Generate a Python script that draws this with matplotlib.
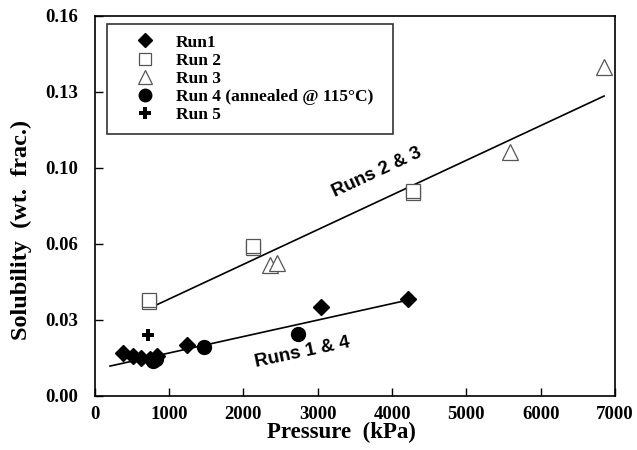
import matplotlib
matplotlib.use("Agg")
import matplotlib.pyplot as plt
import numpy as np
from matplotlib.ticker import FixedLocator, FormatStrFormatter

# Data
run1_x = [380, 514, 622, 743, 837, 1241, 3045, 4216]
run1_y = [0.0181, 0.0168, 0.0160, 0.0156, 0.0168, 0.0215, 0.0375, 0.0408]
run2_x = [730, 730, 2130, 2130, 4284, 4284]
run2_y = [0.0396, 0.0404, 0.0623, 0.0632, 0.0855, 0.0863]
run3_x = [2358, 2452, 5588, 6853]
run3_y = [0.0552, 0.0560, 0.1027, 0.1385]
run4_x = [780, 830, 1470, 2738]
run4_y = [0.0148, 0.0156, 0.0206, 0.0261]
run5_x = [717]
run5_y = [0.0257]

fit23_x = [744, 6853]
fit23_y = [0.0371, 0.1263]
fit14_x = [205, 4216]
fit14_y = [0.0126, 0.0404]

x_ticks = [0, 1000, 2000, 3000, 4000, 5000, 6000, 7000]
y_ticks = [0.0, 0.032, 0.064, 0.096, 0.128, 0.16]

serif = "Liberation Serif"
sans = "Liberation Sans"

fig = plt.figure(figsize=(6.37, 4.5), dpi=100)
ax = fig.add_axes([94.8 / 637, 1 - 396 / 450, (615 - 94.8) / 637, (396 - 16) / 450])

ax.plot(fit23_x, fit23_y, color="black", lw=1.2, zorder=2)
ax.plot(fit14_x, fit14_y, color="black", lw=1.2, zorder=2)

ax.plot(run1_x, run1_y, ls="none", marker="D", ms=8, color="black", label="Run1", zorder=3)
ax.plot(run2_x, run2_y, ls="none", marker="s", ms=10, mfc="white", mec="#555555", mew=0.9, label="Run 2", zorder=3)
ax.plot(run3_x, run3_y, ls="none", marker="^", ms=11, mfc="white", mec="#555555", mew=0.9, label="Run 3", zorder=3)
ax.plot(run4_x, run4_y, ls="none", marker="o", ms=10, color="black", label="Run 4 (annealed @ 115°C)", zorder=3)
ax.plot(run5_x, run5_y, ls="none", marker="P", ms=9, color="black", mew=0, label="Run 5", zorder=3)

ax.set_xlim(0, 7000)
ax.set_ylim(0, 0.16)
ax.xaxis.set_major_locator(FixedLocator(x_ticks))
ax.yaxis.set_major_locator(FixedLocator(y_ticks))
ax.yaxis.set_major_formatter(FormatStrFormatter("%.2f"))
ax.tick_params(direction="in", length=6, width=1, labelsize=13.5)
ax.tick_params(axis="x", pad=7)
ax.tick_params(axis="y", pad=12)
for lab in ax.get_xticklabels() + ax.get_yticklabels():
    lab.set_fontfamily(serif)
    lab.set_fontweight("bold")
for s in ax.spines.values():
    s.set_linewidth(1.2)

ax.set_xlabel("Pressure  (kPa)", fontfamily=serif, fontweight="bold", fontsize=16.5)
ax.set_ylabel("Solubility  (wt.  frac.)", fontfamily=serif, fontweight="bold", fontsize=17.5)
ax.xaxis.set_label_coords(0.475, -0.068)
ax.yaxis.set_label_coords(-0.121, 0.437)

ax.text(3798, 0.0943, "Runs 2 & 3", fontfamily=sans, fontweight="bold", fontsize=13.5, rotation=25,
        ha="center", va="center")
ax.text(2790, 0.0185, "Runs 1 & 4", fontfamily=sans, fontweight="bold", fontsize=13.5, rotation=12,
        ha="center", va="center")

leg = ax.legend(loc="upper left", bbox_to_anchor=(0.0235, 0.5, 0.55, 0.479), mode="expand",
                borderaxespad=0, frameon=True, fancybox=False, edgecolor="black",
                prop={"family": serif, "weight": "bold", "size": 12.5},
                handletextpad=0.15, labelspacing=0.12, borderpad=0.6, handlelength=3.2,
                markerscale=0.9)
leg.get_frame().set_linewidth(1.2)

fig.savefig("out.png", dpi=100)
